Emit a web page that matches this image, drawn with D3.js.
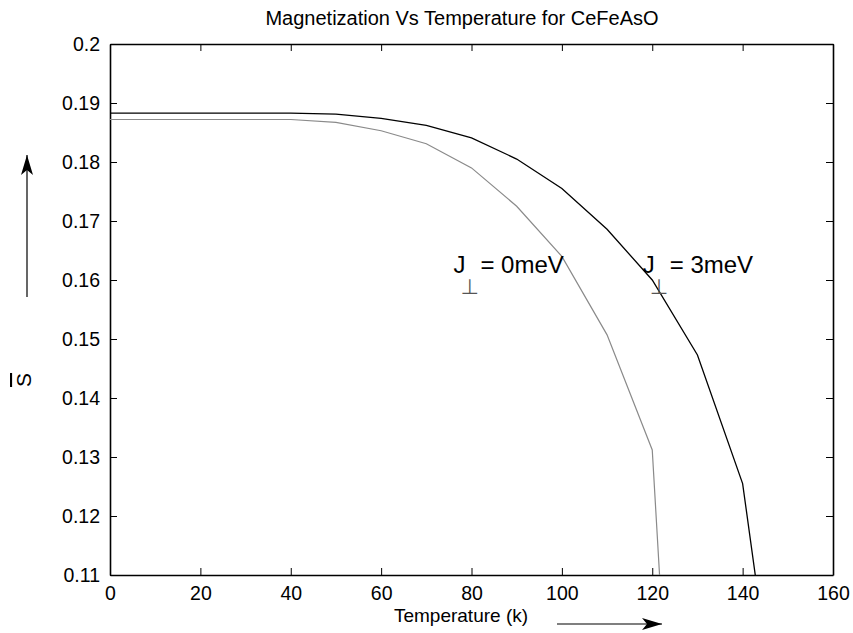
<!DOCTYPE html>
<html>
<head>
<meta charset="utf-8">
<script src="https://cdn.jsdelivr.net/npm/d3@7"></script>
<style>
  body { margin: 0; background: #fff; }
  text { font-family: Arial, "Liberation Sans", sans-serif; }
</style>
</head>
<body>
<div id="chart"></div>
<script>
// temperatures (K)
var temps = [0, 10, 20, 30, 40, 50, 60, 70, 80, 90, 100, 110, 120, 130, 140, 150];
// J_perp = 3 meV (black)
var s3meV = [0.1883, 0.1883, 0.1883, 0.1883, 0.1883, 0.1881, 0.1874, 0.1862, 0.1841, 0.1805, 0.1755, 0.1686, 0.1600, 0.1473, 0.1255, 0.0701];
// J_perp = 0 meV (grey), drops to zero after 120 K
var s0meV = [0.1872, 0.1872, 0.1872, 0.1872, 0.1872, 0.1867, 0.1853, 0.1831, 0.1790, 0.1725, 0.1640, 0.1507, 0.1312, 0.0];
var xTicks = [0, 20, 40, 60, 80, 100, 120, 140, 160];
var yTicks = [0.11, 0.12, 0.13, 0.14, 0.15, 0.16, 0.17, 0.18, 0.19, 0.2];

var width = 853, height = 633
var margin = {top: 44, right: 20, bottom: 58, left: 110}
var w = width - margin.left - margin.right
var h = height - margin.top - margin.bottom

var svg = d3.select("#chart").append("svg")
    .attr("width", width)
    .attr("height", height)

var defs = svg.append("defs")
defs.append("clipPath").attr("id", "plotclip")
    .append("rect").attr("width", w).attr("height", h)
defs.append("marker").attr("id", "head")
    .attr("viewBox", "0 0 20 12").attr("refX", 20).attr("refY", 6)
    .attr("markerWidth", 20).attr("markerHeight", 12)
    .attr("markerUnits", "userSpaceOnUse").attr("orient", "auto")
    .append("path").attr("d", "M0,0 L20,6 L0,12 L5,6 Z").attr("fill", "#000")

var g = svg.append("g").attr("transform", "translate(" + margin.left + "," + margin.top + ")")

var x = d3.scaleLinear().domain([0, 160]).range([0, w])
var y = d3.scaleLinear().domain([0.11, 0.2]).range([h, 0])

function fmt(d) { return d3.format("~g")(d) }

// axes, ticks pointing inward on all four sides
g.append("g").attr("transform", "translate(0," + h + ")")
    .call(d3.axisBottom(x).tickValues(xTicks).tickFormat(fmt).tickSizeInner(-7).tickSizeOuter(0).tickPadding(11))
g.append("g")
    .call(d3.axisTop(x).tickValues(xTicks).tickFormat("").tickSizeInner(-7).tickSizeOuter(0))
g.append("g")
    .call(d3.axisLeft(y).tickValues(yTicks).tickFormat(fmt).tickSizeInner(-7).tickSizeOuter(0).tickPadding(10))
g.append("g").attr("transform", "translate(" + w + ",0)")
    .call(d3.axisRight(y).tickValues(yTicks).tickFormat("").tickSizeInner(-7).tickSizeOuter(0))

g.selectAll(".domain").attr("stroke", "#000").attr("stroke-width", 1.6)
g.selectAll(".tick line").attr("stroke", "#000").attr("stroke-width", 1)
g.selectAll(".tick text").attr("font-size", 19.5).attr("fill", "#000")
    .style("font-family", "Arial, 'Liberation Sans', sans-serif")

var line = d3.line()
    .x(function(d) { return x(d[0]) })
    .y(function(d) { return y(d[1]) })

var plot = g.append("g").attr("clip-path", "url(#plotclip)")

plot.append("path")
    .datum(s0meV.map(function(v, i) { return [temps[i], v] }))
    .attr("d", line)
    .attr("fill", "none")
    .attr("stroke", "#8a8a8a")
    .attr("stroke-width", 1.2)

plot.append("path")
    .datum(s3meV.map(function(v, i) { return [temps[i], v] }))
    .attr("d", line)
    .attr("fill", "none")
    .attr("stroke", "#000")
    .attr("stroke-width", 1.3)

// curve labels
function jLabel(t, v, txt) {
    var lx = x(t), ly = y(v)
    g.append("text").attr("x", lx).attr("y", ly).attr("font-size", 24).text("J")
    g.append("text").attr("x", lx + 7).attr("y", ly + 21).attr("font-size", 21)
        .attr("fill", "#555").style("font-family", "'DejaVu Sans', sans-serif").text("\u22A5")
    g.append("text").attr("x", lx + 27).attr("y", ly).attr("font-size", 24).text(txt)
}
jLabel(76, 0.1612, "= 0meV")
jLabel(117.9, 0.1612, "= 3meV")

// title
svg.append("text")
    .attr("x", 462).attr("y", 25)
    .attr("text-anchor", "middle").attr("font-size", 20)
    .text("Magnetization Vs Temperature for CeFeAsO")

// x label and arrow
svg.append("text")
    .attr("x", 461).attr("y", 622)
    .attr("text-anchor", "middle").attr("font-size", 19)
    .text("Temperature (k)")
svg.append("line")
    .attr("x1", 557).attr("y1", 624).attr("x2", 662).attr("y2", 624)
    .attr("stroke", "#000").attr("stroke-width", 1.2)
    .attr("marker-end", "url(#head)")

// y label (S with bar) and arrow
svg.append("text")
    .attr("transform", "translate(31,380) rotate(-90)")
    .attr("text-anchor", "middle").attr("font-size", 21)
    .style("text-decoration", "overline")
    .text("S")
svg.append("line")
    .attr("x1", 27).attr("y1", 297).attr("x2", 27).attr("y2", 155)
    .attr("stroke", "#000").attr("stroke-width", 1.2)
    .attr("marker-end", "url(#head)")
</script>
</body>
</html>
